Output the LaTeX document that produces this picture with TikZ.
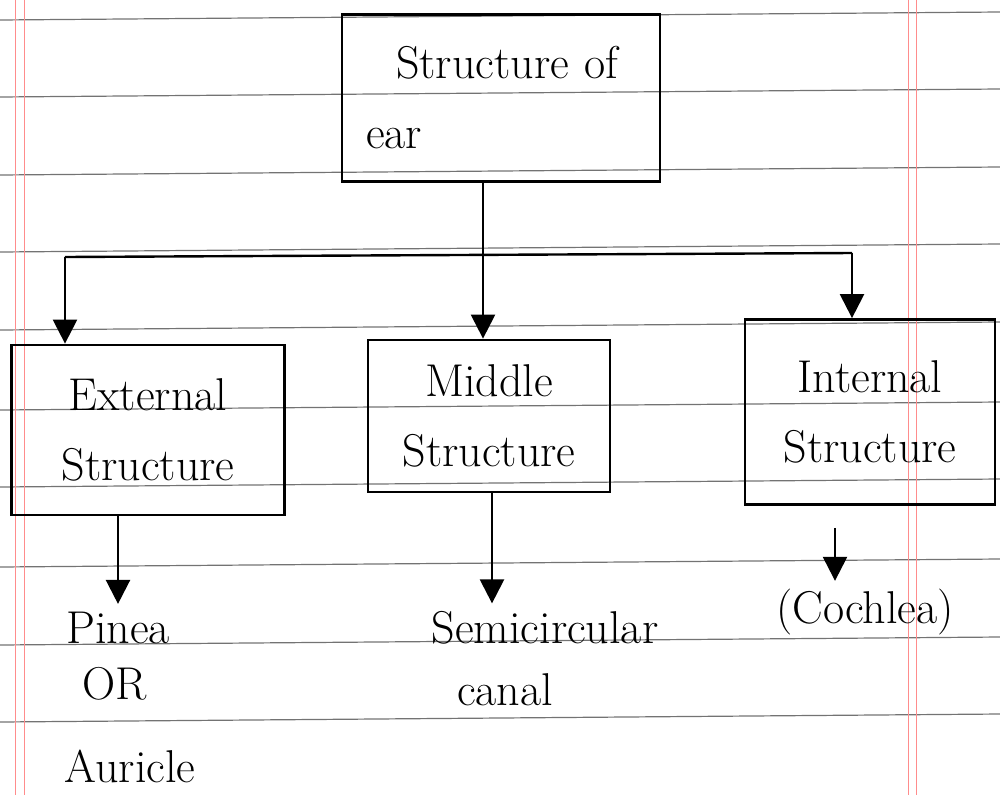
\documentclass[tikz,border=0pt]{standalone}
\usetikzlibrary{arrows.meta}
\begin{document}
\begin{tikzpicture}[x=1pt,y=-1pt,
  box/.style={draw=black,line width=2.8pt,align=left,inner sep=0pt,font=\fontsize{46}{70}\selectfont},
  lbl/.style={inner sep=0pt,font=\fontsize{46}{70}\selectfont},
  conn/.style={draw=black,line width=2.4pt},
  arr/.style={conn,-{Triangle[length=24pt,width=24pt]}},
  rule/.style={draw=black!55,line width=1.2pt},
  margin/.style={draw=red!45,line width=1pt}]
\useasboundingbox (0,0) rectangle (1000,795);
% ruled paper
\foreach \yy in {20,97,175,252,330,410,487,567,645,722}
  \draw[rule] (0,\yy) -- (1000,\yy-8);
\foreach \xx in {15,24,908,916}
  \draw[margin] (\xx,0) -- (\xx,795);
% boxes
\node[box,minimum width=318pt,minimum height=167pt,text width=270pt] (top) at (501,98) {\hspace*{30pt}Structure of\\ear};
\node[box,minimum width=273pt,minimum height=170pt,align=center] (ext) at (148,430) {External\\Structure};
\node[box,minimum width=242pt,minimum height=152pt,align=center] (mid) at (489,416) {Middle\\Structure};
\node[box,minimum width=250pt,minimum height=185pt,align=center] (int) at (870,412) {Internal\\Structure};
% leaf labels
\node[lbl] (pinea) at (118,628) {Pinea};
\node[lbl] (or) at (115,684) {OR};
\node[lbl] (auricle) at (130,766) {Auricle};
\node[lbl] (semi) at (545,628) {Semicircular};
\node[lbl] (canal) at (505,690) {canal};
\node[lbl] (coch) at (865,612) {(Cochlea)};
% connectors
\coordinate (J) at (483,256);
\coordinate (L) at (65,257);
\coordinate (R) at (852,253);
\draw[conn] (L) -- (R);
\draw[arr] (J |- top.south) -- (J |- mid.north);
\draw[arr] (L) -- (L |- ext.north);
\draw[arr] (R) -- (R |- int.north);
\coordinate (a1) at (118,0);
\coordinate (a2) at (492,0);
\coordinate (a3) at (835,0);
\draw[arr] (a1 |- ext.south) -- ([yshift=8pt]a1 |- pinea.north);
\draw[arr] (a2 |- mid.south) -- ([yshift=8pt]a2 |- semi.north);
\draw[arr] ([yshift=-22pt]a3 |- int.south) -- ([yshift=8pt]a3 |- coch.north);
\end{tikzpicture}
\end{document}
